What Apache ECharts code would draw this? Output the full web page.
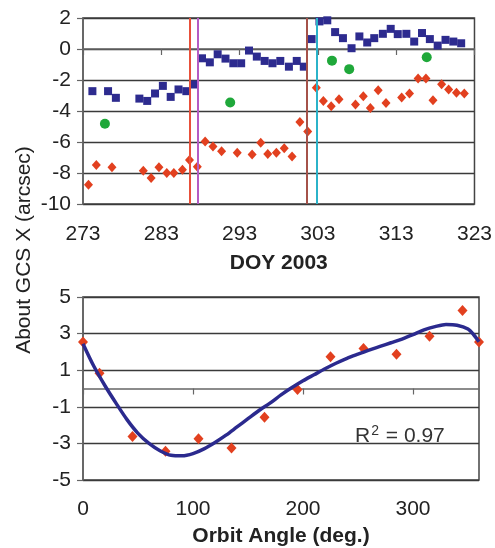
<!DOCTYPE html>
<html>
<head>
<meta charset="utf-8">
<script src="https://cdn.jsdelivr.net/npm/echarts@6/dist/echarts.min.js"></script>
<style>
  html, body { margin: 0; padding: 0; background: #fff; }
  #chart { width: 495px; height: 548px; }
</style>
</head>
<body>
<div id="chart"></div>
<script>
// top panel: DOY 2003
const doyTicks = [273, 283, 293, 303, 313, 323];

const blueDays = [274.2, 276.2, 277.2, 280.2, 281.2, 282.2, 283.2, 284.2, 285.2, 286.2, 287.2,
  288.2, 289.2, 290.2, 291.2, 292.2, 293.2, 294.2, 295.2, 296.2, 297.2, 298.2,
  299.3, 300.3, 301.2, 302.2, 303.2, 304.2, 305.2, 306.2, 307.3, 308.3, 309.3, 310.2,
  311.3, 312.3, 313.2, 314.3, 315.3, 316.3, 317.3, 318.3, 319.3, 320.3, 321.3];
const blueVals = [-2.72, -2.72, -3.15, -3.2, -3.35, -2.87, -2.38, -3.09, -2.61, -2.72, -2.29,
  -0.6, -0.86, -0.34, -0.62, -0.92, -0.92, -0.1, -0.49, -0.77, -0.92, -0.77,
  -1.14, -0.77, -1.14, 0.64, 1.78, 1.85, 1.09, 0.7, 0.05, 0.81, 0.42, 0.7,
  0.98, 1.3, 0.96, 0.98, 0.48, 1.03, 0.64, 0.22, 0.59, 0.48, 0.37];

const redDays = [273.7, 274.7, 276.7, 280.7, 281.7, 282.7, 283.7, 284.6, 285.7, 286.6,
  287.6, 288.6, 289.6, 290.7, 292.7, 294.6, 295.7, 296.6, 297.7, 298.7,
  299.7, 300.7, 301.7, 302.8, 303.7, 304.7, 305.7, 307.8, 308.8, 309.7,
  310.7, 311.7, 313.7, 314.7, 315.8, 316.8, 317.7, 318.8, 319.7, 320.7, 321.7];
const redVals = [-8.76, -7.48, -7.63, -7.85, -8.32, -7.63, -8.0, -8.0, -7.79, -7.16,
  -7.59, -5.97, -6.29, -6.6, -6.7, -6.81, -6.05, -6.77, -6.7, -6.4,
  -6.94, -4.71, -5.32, -2.5, -3.35, -3.69, -3.24, -3.58, -3.05, -3.81,
  -2.66, -3.48, -3.13, -2.87, -1.9, -1.9, -3.31, -2.27, -2.61, -2.83, -2.87];

const greenDays = [275.8, 291.8, 304.8, 307.0, 316.9];
const greenVals = [-4.82, -3.45, -0.75, -1.3, -0.53];

const eventDays = [286.65, 287.6, 301.6, 302.8];
const eventColors = ["#e8503a", "#b45cc4", "#a5524a", "#2bb3c9"];

// bottom panel: orbit angle
const orbitAngles = [0, 15, 45, 75, 105, 135, 165, 195, 225, 255, 285, 315, 345, 360];
const orbitVals = [2.54, 0.84, -2.62, -3.43, -2.74, -3.25, -1.57, -0.06, 1.74, 2.19, 1.87, 2.86, 4.26, 2.54];

// fitted curve
const fitAngles = [0, 10, 20, 30, 40, 50, 60, 70, 80, 90, 100, 110, 120, 130, 140, 150, 160, 170,
  180, 190, 200, 210, 220, 230, 240, 250, 260, 270, 280, 290, 300, 310, 320, 330, 340, 350, 355, 360];
const fitVals = [2.45, 1.2, 0.15, -0.8, -1.7, -2.45, -3.0, -3.4, -3.65, -3.68, -3.56, -3.3, -2.95,
  -2.55, -2.1, -1.65, -1.2, -0.8, -0.35, 0.05, 0.42, 0.75, 1.08, 1.38, 1.65, 1.88, 2.1, 2.3,
  2.5, 2.7, 2.95, 3.2, 3.38, 3.5, 3.46, 3.25, 2.95, 2.55];

const zip = (xs, ys) => xs.map((x, i) => [x, ys[i]]);

const FONT = "Liberation Sans";
const labelStyle = { color: "#222", fontSize: 21, fontFamily: FONT };
const gridLine = { show: true, lineStyle: { color: "#3a3a3a", width: 1.3 } };
const axisLine = { show: true, lineStyle: { color: "#666", width: 1.5 } };
const axisTick = { show: true, length: 6, lineStyle: { color: "#666", width: 1.2 } };

const chart = echarts.init(document.getElementById("chart"), null, { renderer: "canvas" });

chart.setOption({
  animation: false,
  backgroundColor: "#fff",
  grid: [
    { left: 83, top: 18, width: 392, height: 186, show: true, borderColor: "#444", borderWidth: 1.5 },
    { left: 83, top: 297, width: 396, height: 185, show: true, borderColor: "#444", borderWidth: 1.5 },
  ],
  xAxis: [
    {
      gridIndex: 0, type: "value", min: 273, max: 323, interval: 10,
      axisLine, axisTick: { ...axisTick, customValues: doyTicks },
      axisLabel: { ...labelStyle, margin: 20, customValues: doyTicks },
      splitLine: { show: false },
      name: "DOY 2003", nameLocation: "middle", nameGap: 49,
      nameTextStyle: { ...labelStyle, fontWeight: "bold" },
    },
    {
      gridIndex: 1, type: "value", min: 0, max: 360, interval: 100,
      axisLine, axisTick,
      axisLabel: { ...labelStyle, margin: 19, showMaxLabel: false },
      splitLine: { show: false },
      name: "Orbit Angle (deg.)", nameLocation: "middle", nameGap: 46,
      nameTextStyle: { ...labelStyle, fontWeight: "bold" },
    },
  ],
  yAxis: [
    {
      gridIndex: 0, type: "value", min: -10, max: 2, interval: 2,
      axisLine, axisTick, axisLabel: { ...labelStyle, margin: 12 }, splitLine: gridLine,
    },
    {
      gridIndex: 1, type: "value", min: -5, max: 5, interval: 2,
      axisLine, axisTick, axisLabel: { ...labelStyle, margin: 12 }, splitLine: gridLine,
    },
  ],
  graphic: [
    {
      type: "text", x: 24, y: 250, rotation: Math.PI / 2,
      style: { text: "About GCS X (arcsec)", fill: "#222", fontSize: 21, fontFamily: FONT,
        align: "center", verticalAlign: "middle" },
    },
    {
      type: "text", x: 355, y: 424,
      style: {
        text: "R{sup|2} = 0.97", fill: "#333", fontSize: 21, fontFamily: FONT,
        rich: { sup: { fontSize: 14, fontFamily: FONT, fill: "#333", padding: [0, 1, 10, 1] } },
      },
    },
  ],
  series: [
    {
      type: "scatter", xAxisIndex: 0, yAxisIndex: 0,
      data: zip(blueDays, blueVals),
      symbol: "rect", symbolSize: 8,
      itemStyle: { color: "#2d2b8f", opacity: 1 },
      markLine: {
        silent: true, symbol: "none", label: { show: false },
        data: eventDays.map((d, i) => ({ xAxis: d, lineStyle: { color: eventColors[i], width: 2, type: "solid", opacity: 1 } })),
      },
    },
    {
      type: "scatter", xAxisIndex: 0, yAxisIndex: 0,
      data: zip(redDays, redVals),
      symbol: "diamond", symbolSize: [9, 10],
      itemStyle: { color: "#e2401f", opacity: 1 },
    },
    {
      type: "scatter", xAxisIndex: 0, yAxisIndex: 0,
      data: zip(greenDays, greenVals),
      symbol: "circle", symbolSize: 10,
      itemStyle: { color: "#1fa83a", opacity: 1 },
    },
    {
      type: "line", xAxisIndex: 1, yAxisIndex: 1,
      data: zip(fitAngles, fitVals),
      smooth: 0.3, showSymbol: false,
      lineStyle: { color: "#2b2a8e", width: 3.5 },
    },
    {
      type: "scatter", xAxisIndex: 1, yAxisIndex: 1,
      data: zip(orbitAngles, orbitVals),
      symbol: "diamond", symbolSize: [10, 11],
      itemStyle: { color: "#e2401f", opacity: 1 },
    },
  ],
});
</script>
</body>
</html>
